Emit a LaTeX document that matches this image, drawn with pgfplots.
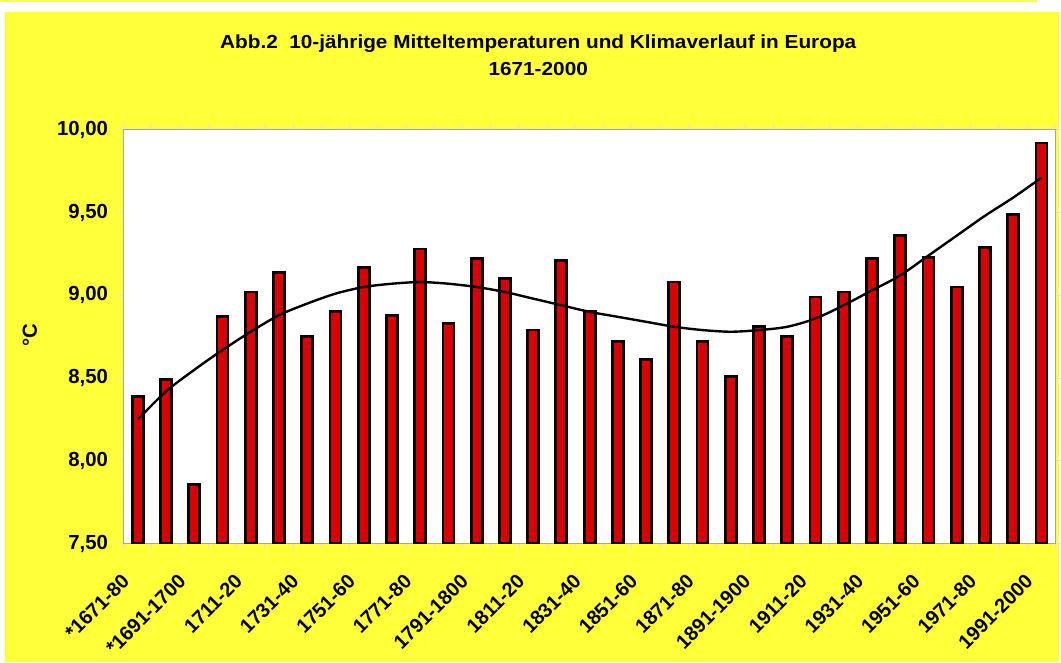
\documentclass[border=0pt]{standalone}
\usepackage{fontspec}
\setmainfont{Liberation Sans}
\usepackage{pgfplots}
\pgfplotsset{compat=1.18}
\definecolor{bgyellow}{RGB}{255,255,58}
\definecolor{barred}{RGB}{220,0,0}
\definecolor{framegray}{RGB}{165,165,165}
\definecolor{tickgray}{RGB}{225,225,225}

\begin{document}
\begin{tikzpicture}
% page background (1px = 0.75pt, axis corner at pixel 124,545)
\fill[white] (-93pt,-89.25pt) rectangle (702.75pt,408.75pt);
\fill[bgyellow] (-89.25pt,-89.25pt) rectangle (702.75pt,399.75pt);
\fill[bgyellow] (-93pt,407.5pt) rectangle (686.25pt,408.75pt);

\begin{axis}[
  scale only axis,
  width=700.5pt,
  height=311.25pt,
  xmin=0.5, xmax=33.5,
  ymin=7.5, ymax=10,
  axis background/.style={fill=white},
  axis line style={draw=framegray, line width=0.75pt},
  tick align=outside,
  xtick={1,3,...,33},
  xticklabels={*1671-80,*1691-1700,1711-20,1731-40,1751-60,1771-80,1791-1800,1811-20,1831-40,1851-60,1871-80,1891-1900,1911-20,1931-40,1951-60,1971-80,1991-2000},
  major x tick style={draw=none},
  minor xtick={0.5,1.5,...,33.5},
  minor x tick style={draw=tickgray, line width=0.75pt},
  minor tick length=3.75pt,
  ytick={7.5,8,8.5,9,9.5,10},
  major y tick style={draw=tickgray, line width=0.75pt},
  major tick length=3.75pt,
  yticklabel style={
    /pgf/number format/.cd, fixed, fixed zerofill, precision=2, use comma,
    assume math mode=true, /tikz/.cd,
    font=\fontsize{15.3}{15}\selectfont\bfseries, xshift=-4.5pt},
  xticklabel style={
    font=\fontsize{15}{15}\selectfont\bfseries,
    inner sep=0pt, xshift=-9pt, yshift=-22pt, rotate=45, anchor=east},
  ylabel={°C},
  every axis y label/.style={at={(rel axis cs:-0.1006,0.5036)}, rotate=90,
    anchor=center, font=\fontsize{15.3}{15}\selectfont\bfseries},
]
\addplot[ybar, bar width=8.25pt, bar shift=0pt, fill=barred, draw=black, line width=2.1pt]
coordinates {
(1,8.39) (2,8.49) (3,7.86) (4,8.87) (5,9.02) (6,9.14) (7,8.75) (8,8.90)
(9,9.17) (10,8.88) (11,9.28) (12,8.83) (13,9.22) (14,9.10) (15,8.79)
(16,9.21) (17,8.90) (18,8.72) (19,8.61) (20,9.08) (21,8.72) (22,8.51)
(23,8.81) (24,8.75) (25,8.99) (26,9.02) (27,9.22) (28,9.36) (29,9.23)
(30,9.05) (31,9.29) (32,9.49) (33,9.92)
};
% trend line
\addplot[smooth, black, line width=1.8pt, mark=none]
coordinates {
(1,8.25) (2,8.42) (3,8.55) (4,8.67) (5,8.78) (6,8.88) (7,8.95) (8,9.01)
(9,9.05) (10,9.07) (11,9.08) (12,9.07) (13,9.05) (14,9.02) (15,8.98)
(16,8.94) (17,8.90) (18,8.87) (19,8.84) (20,8.81) (21,8.79) (22,8.78)
(23,8.79) (24,8.81) (25,8.86) (26,8.94) (27,9.03) (28,9.12) (29,9.24)
(30,9.36) (31,9.48) (32,9.59) (33,9.71)
};
\end{axis}
\node[font=\fontsize{14.2}{20}\selectfont\bfseries, anchor=base, xscale=1.1]
  at (311.6pt,372.5pt) {Abb.2\ \ 10-jährige Mitteltemperaturen und Klimaverlauf in Europa};
\node[font=\fontsize{14.2}{20}\selectfont\bfseries, anchor=base, xscale=1.1]
  at (311.6pt,352pt) {1671-2000};
\end{tikzpicture}
\end{document}
